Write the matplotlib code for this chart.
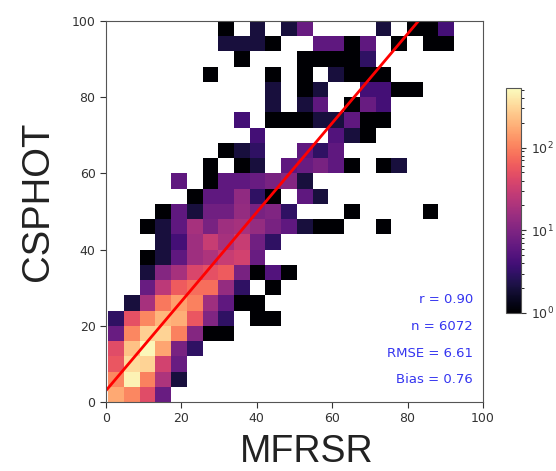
import numpy as np
import matplotlib
matplotlib.use('Agg')
import matplotlib.pyplot as plt
from matplotlib.colors import LogNorm

# bin edges of the 2D histogram (24 columns x 25 rows visible)
x_edges = np.linspace(0.6, 100.7, 25)
y_edges = np.arange(0, 101, 4)

# counts per row, bottom (y 0-4) to top (y 96-100)
row_00 = [170, 110, 45, 7, 0, 0, 0, 0, 0, 0, 0, 0, 0, 0, 0, 0, 0, 0, 0, 0, 0, 0, 0, 0]
row_01 = [110, 450, 100, 20, 2, 0, 0, 0, 0, 0, 0, 0, 0, 0, 0, 0, 0, 0, 0, 0, 0, 0, 0, 0]
row_02 = [55, 330, 300, 35, 7, 0, 0, 0, 0, 0, 0, 0, 0, 0, 0, 0, 0, 0, 0, 0, 0, 0, 0, 0]
row_03 = [45, 230, 480, 160, 9, 3, 0, 0, 0, 0, 0, 0, 0, 0, 0, 0, 0, 0, 0, 0, 0, 0, 0, 0]
row_04 = [7, 110, 280, 300, 100, 11, 1, 1, 0, 0, 0, 0, 0, 0, 0, 0, 0, 0, 0, 0, 0, 0, 0, 0]
row_05 = [3, 50, 110, 200, 180, 55, 10, 3, 0, 1, 1, 0, 0, 0, 0, 0, 0, 0, 0, 0, 0, 0, 0, 0]
row_06 = [0, 2, 18, 90, 150, 100, 16, 6, 1, 1, 0, 0, 0, 0, 0, 0, 0, 0, 0, 0, 0, 0, 0, 0]
row_07 = [0, 0, 7, 25, 60, 80, 80, 14, 3, 0, 1, 0, 0, 0, 0, 0, 0, 0, 0, 0, 0, 0, 0, 0]
row_08 = [0, 0, 2, 11, 18, 40, 50, 60, 9, 1, 5, 1, 0, 0, 0, 0, 0, 0, 0, 0, 0, 0, 0, 0]
row_09 = [0, 0, 1, 2, 6, 16, 20, 30, 35, 7, 0, 0, 0, 0, 0, 0, 0, 0, 0, 0, 0, 0, 0, 0]
row_10 = [0, 0, 0, 2, 4, 16, 30, 18, 30, 8, 3, 0, 0, 0, 0, 0, 0, 0, 0, 0, 0, 0, 0, 0]
row_11 = [0, 0, 1, 2, 6, 18, 9, 16, 18, 14, 9, 6, 2, 1, 1, 0, 0, 1, 0, 0, 0, 0, 0, 0]
row_12 = [0, 0, 0, 1, 6, 2, 8, 8, 14, 9, 10, 3, 0, 0, 0, 1, 0, 0, 0, 0, 1, 0, 0, 0]
row_13 = [0, 0, 0, 0, 0, 1, 6, 6, 13, 3, 1, 0, 6, 2, 0, 0, 0, 0, 0, 0, 0, 0, 0, 0]
row_14 = [0, 0, 0, 0, 6, 0, 1, 6, 6, 7, 9, 11, 2, 0, 0, 0, 0, 0, 0, 0, 0, 0, 0, 0]
row_15 = [0, 0, 0, 0, 0, 0, 1, 0, 1, 2, 0, 6, 7, 9, 6, 1, 0, 1, 2, 0, 0, 0, 0, 0]
row_16 = [0, 0, 0, 0, 0, 0, 0, 1, 2, 3, 0, 0, 6, 3, 6, 0, 0, 0, 0, 0, 0, 0, 0, 0]
row_17 = [0, 0, 0, 0, 0, 0, 0, 0, 0, 4, 0, 0, 0, 0, 5, 2, 1, 0, 0, 0, 0, 0, 0, 0]
row_18 = [0, 0, 0, 0, 0, 0, 0, 0, 4, 0, 1, 1, 1, 2, 2, 6, 1, 1, 0, 0, 0, 0, 0, 0]
row_19 = [0, 0, 0, 0, 0, 0, 0, 0, 0, 0, 2, 0, 2, 6, 0, 1, 7, 4, 0, 0, 0, 0, 0, 0]
row_20 = [0, 0, 0, 0, 0, 0, 0, 0, 0, 0, 2, 0, 1, 2, 0, 0, 4, 4, 1, 1, 0, 0, 0, 0]
row_21 = [0, 0, 0, 0, 0, 0, 1, 0, 0, 0, 1, 0, 1, 0, 2, 1, 1, 1, 0, 0, 0, 0, 0, 0]
row_22 = [0, 0, 0, 0, 0, 0, 0, 0, 1, 0, 0, 0, 1, 1, 1, 1, 3, 0, 0, 0, 0, 0, 0, 0]
row_23 = [0, 0, 0, 0, 0, 0, 0, 2, 2, 2, 1, 0, 0, 6, 6, 1, 6, 0, 1, 0, 1, 1, 0, 0]
row_24 = [0, 0, 0, 0, 0, 0, 0, 1, 0, 2, 0, 2, 7, 0, 0, 0, 0, 2, 0, 1, 1, 4, 0, 0]

# fitted line and statistics
fit_slope = 1.17
fit_intercept = 3.0
stat_lines = ["r = 0.90", "n = 6072", "RMSE = 6.61", "Bias = 0.76"]

counts = np.array([row_00, row_01, row_02, row_03, row_04, row_05, row_06, row_07,
                   row_08, row_09, row_10, row_11, row_12, row_13, row_14, row_15,
                   row_16, row_17, row_18, row_19, row_20, row_21, row_22, row_23,
                   row_24], dtype=float)
masked = np.ma.masked_equal(counts, 0)

fig = plt.figure(figsize=(5.56, 4.71), dpi=100)
ax = fig.add_axes([0.1906, 0.1465, 0.678, 0.809])

mesh = ax.pcolormesh(x_edges, y_edges, masked, cmap='magma',
                     norm=LogNorm(vmin=1, vmax=counts.max() * 1.1))

fit_x = np.array([0, 100])
ax.plot(fit_x, fit_slope * fit_x + fit_intercept, color='red', lw=2)

ax.set_xlim(0, 100)
ax.set_ylim(0, 100)
ax.set_xticks(np.arange(0, 101, 20))
ax.set_yticks(np.arange(0, 101, 20))
ax.tick_params(labelsize=9, colors='#333333', length=4)
for s in ax.spines.values():
    s.set_color('#555555')

for k, t in enumerate(stat_lines):
    ax.text(0.973, 0.268 - k * 0.07, t, transform=ax.transAxes,
            ha='right', va='center', fontsize=9.5, color='#3535f0')

cax = fig.add_axes([0.910, 0.3355, 0.027, 0.478])
cb = fig.colorbar(mesh, cax=cax)
cb.ax.tick_params(labelsize=9, colors='#333333')
cb.outline.set_edgecolor('#555555')

fig.text(0.0675, 0.572, "CSPHOT", rotation=90, ha='center', va='center',
         fontsize=27.5, family='Liberation Sans', color='#222222')
fig.text(0.552, 0.002, "MFRSR", ha='center', va='bottom',
         fontsize=27, family='Liberation Sans', color='#222222')

fig.savefig('out.png', dpi=100)
